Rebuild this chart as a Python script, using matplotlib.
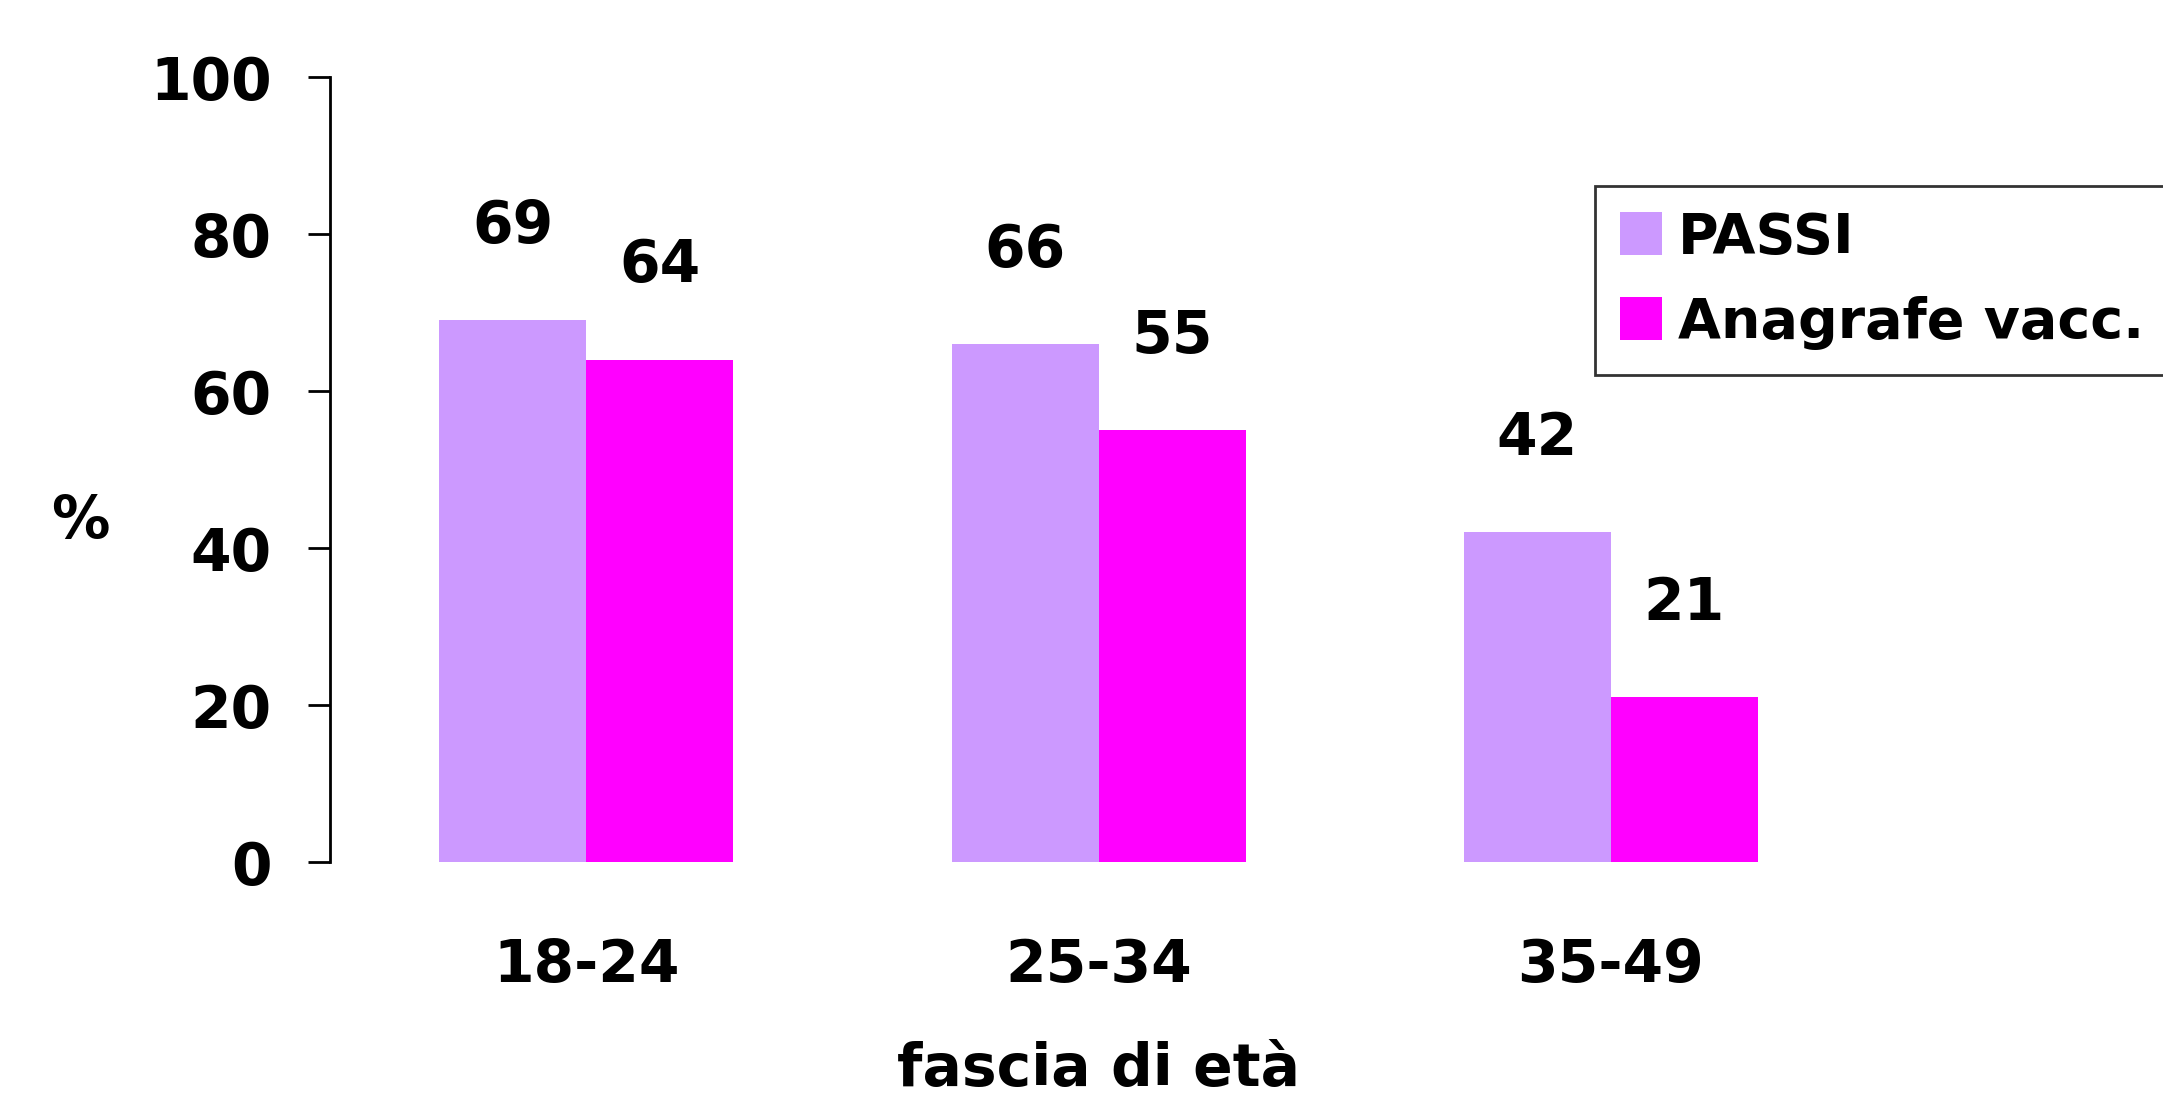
import matplotlib.pyplot as plt
import numpy as np

plt.rcParams['font.family'] = ['DejaVu Sans']
plt.rcParams['font.weight'] = 'bold'

age_groups = ['18-24', '25-34', '35-49']
passi = [69, 66, 42]
anagrafe = [64, 55, 21]
series_names = ['PASSI', 'Anagrafe vacc.']
colors = ['#CC99FF', '#FF00FF']

fig = plt.figure(figsize=(21.63, 10.97), dpi=100)
ax = fig.add_axes([0.1526, 0.2142, 0.7106, 0.7156])

x = np.arange(len(age_groups))
w = 0.287
b1 = ax.bar(x - w / 2, passi, w, color=colors[0], label=series_names[0])
b2 = ax.bar(x + w / 2, anagrafe, w, color=colors[1], label=series_names[1])

fs = 42
for bars in (b1, b2):
    for rect in bars:
        h = rect.get_height()
        ax.annotate(f'{h:.0f}', (rect.get_x() + rect.get_width() / 2, h),
                    xytext=(0, 47), textcoords='offset points',
                    ha='center', va='bottom', fontsize=fs, fontweight='bold')

ax.set_xlim(-0.5, 2.5)
ax.set_ylim(0, 100)
ax.set_yticks(range(0, 101, 20))
ax.set_xticks(x)
ax.set_xticklabels(age_groups)

for s in ['top', 'right', 'bottom']:
    ax.spines[s].set_visible(False)
ax.spines['left'].set_linewidth(2)
ax.tick_params(axis='y', length=16, width=2, pad=26, labelsize=fs)
ax.tick_params(axis='x', length=0, pad=54, labelsize=fs)
for lab in ax.get_xticklabels() + ax.get_yticklabels():
    lab.set_fontweight('bold')

ax.set_xlabel('fascia di età', fontsize=fs, fontweight='bold', labelpad=34)
fig.text(0.037, 0.525, '%', fontsize=fs, fontweight='bold', ha='center', va='center')

leg = fig.legend(loc='upper left', bbox_to_anchor=(0.7374, 0.8304),
                 fontsize=40, frameon=True, fancybox=False, edgecolor='black',
                 handlelength=0.75, handleheight=0.8, handletextpad=0.3,
                 borderpad=0.45, labelspacing=0.55, borderaxespad=0)
leg.get_frame().set_linewidth(2)
for t in leg.get_texts():
    t.set_fontweight('bold')

fig.savefig('out.png', dpi=100)
